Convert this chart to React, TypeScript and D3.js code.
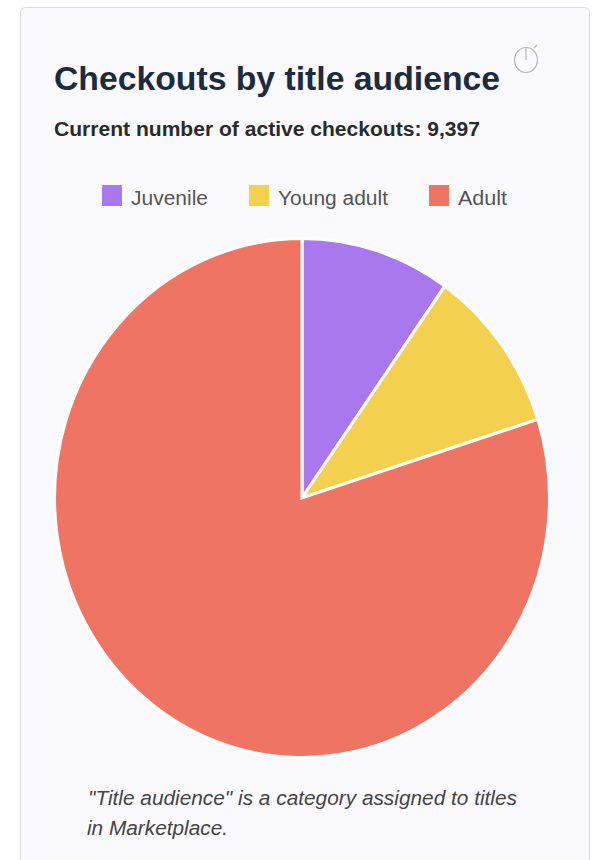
import React from "react";
import * as d3 from "d3";

const categories = ["Juvenile", "Young adult", "Adult"];
const values = [920, 969, 7508];
const colors = ["#a978ee", "#f4d04f", "#f07464"];
const legendX = [102, 249, 429];
const legendTextWidth = [77, 110, 49];
const FONT = "'Liberation Sans', Arial, sans-serif";

export default function App() {
  const pie = d3.pie<number>().sort(null).startAngle(0).endAngle(2 * Math.PI);
  const arc = d3.arc<d3.PieArcDatum<number>>().innerRadius(0).outerRadius(259.5);
  const arcs = pie(values);
  return (
    <svg width={596} height={860} style={{ position: "absolute", left: 0, top: 0, background: "#fff" }}>
      <rect x={20.5} y={7.5} width={569} height={870} rx={5} fill="#fafafc" stroke="#dcdcdc" />
      <text x={54} y={90} fontFamily={FONT} fontWeight={700} fontSize={34} fill="#1c2b3f" textLength={446} lengthAdjust="spacingAndGlyphs">Checkouts by title audience</text>
      <text x={54} y={136} fontFamily={FONT} fontWeight={700} fontSize={20} fill="#2a2a2a" textLength={426} lengthAdjust="spacingAndGlyphs">Current number of active checkouts: 9,397</text>
      <g fill="none" stroke="#b4b4b4" strokeWidth={1.2}>
        <ellipse cx={526} cy={60} rx={11.5} ry={12.5} />
        <path d="M526 47V60M534 48L537 45" />
      </g>
      {categories.map((c, i) => (
        <g key={c}>
          <rect x={legendX[i]} y={185} width={20} height={21} fill={colors[i]} />
          <text x={legendX[i] + 29} y={205} fontFamily={FONT} fontSize={20} fill="#555" textLength={legendTextWidth[i]} lengthAdjust="spacingAndGlyphs">{c}</text>
        </g>
      ))}
      <g transform="translate(302,498) scale(0.9535,1)">
        {arcs.map((a, i) => (
          <path key={i} d={arc(a) || ""} fill={colors[i]} stroke="#fff" strokeWidth={3} vectorEffect="non-scaling-stroke" />
        ))}
      </g>
      <text x={88} y={805} fontFamily={FONT} fontStyle="italic" fontSize={20} fill="#444" textLength={429} lengthAdjust="spacingAndGlyphs">"Title audience" is a category assigned to titles</text>
      <text x={87} y={835} fontFamily={FONT} fontStyle="italic" fontSize={20} fill="#444" textLength={141} lengthAdjust="spacingAndGlyphs">in Marketplace.</text>
    </svg>
  );
}
